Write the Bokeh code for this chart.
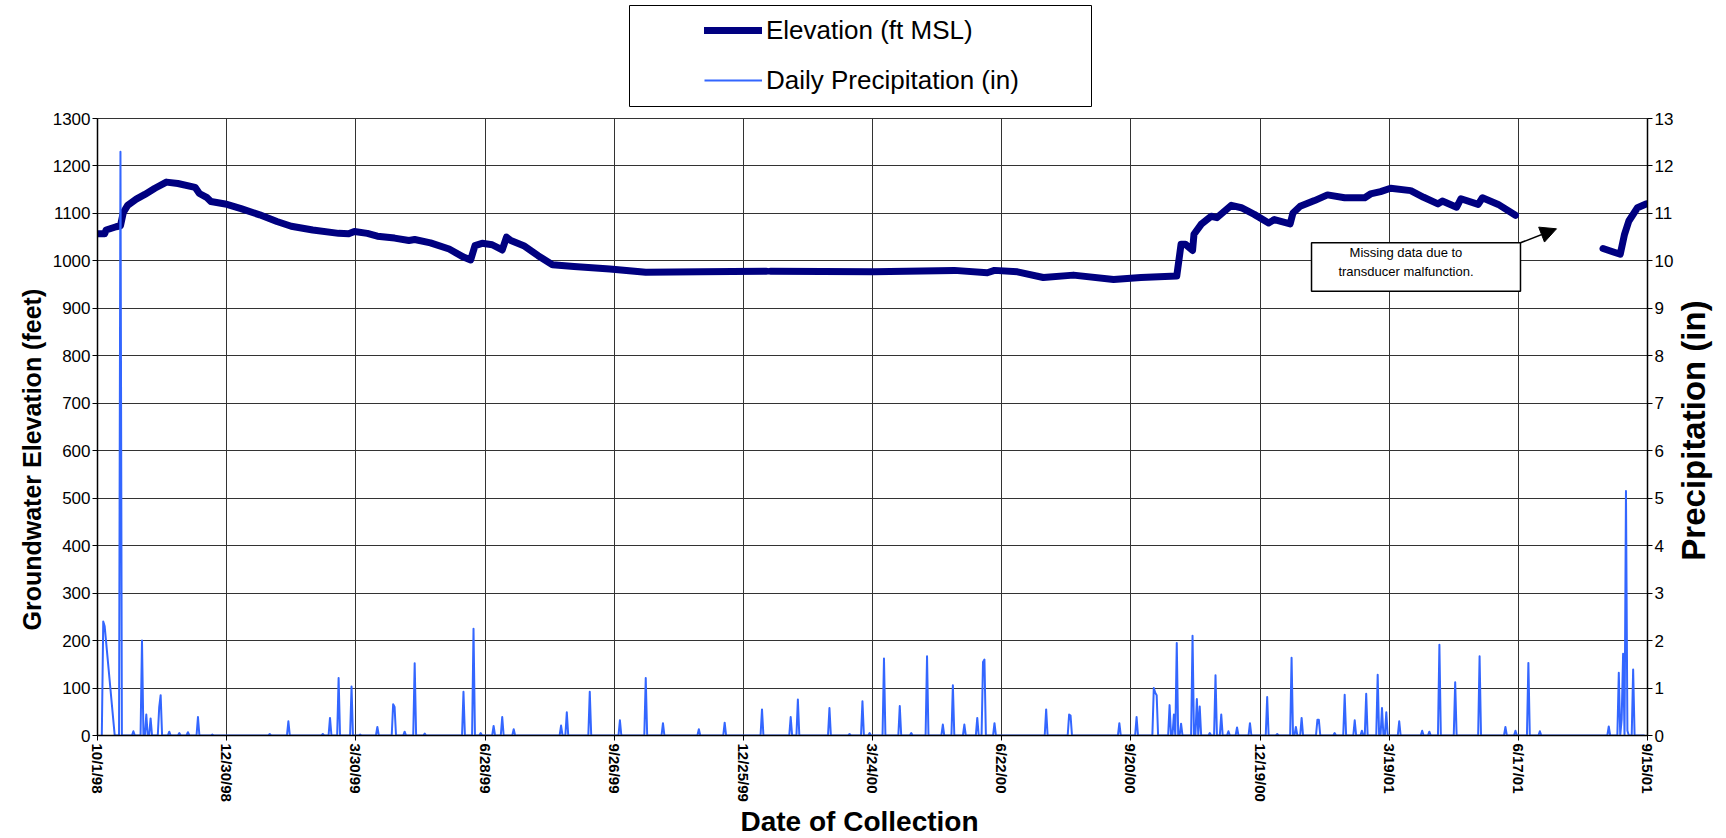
import math
from bokeh.plotting import figure
from bokeh.layouts import column, row
from bokeh.models import (Range1d, LinearAxis, FixedTicker, Legend, LegendItem, Title,
                          Label, BoxAnnotation, Arrow, NormalHead)
from bokeh.embed import file_html
from bokeh.resources import INLINE

# ---------------- data ----------------
# x values are days since 10/1/98
tick_days = [0, 90, 180, 270, 360, 450, 540, 630, 720, 810, 900, 990, 1080]
tick_labels = ["10/1/98", "12/30/98", "3/30/99", "6/28/99", "9/26/99", "12/25/99",
               "3/24/00", "6/22/00", "9/20/00", "12/19/00", "3/19/01", "6/17/01", "9/15/01"]

elev_day = [0, 5, 6, 13, 16, 18, 21, 27, 33, 40, 48, 56, 68, 71, 76, 79, 89, 100, 113, 125,
            135, 150, 168, 175, 179, 188, 195, 207, 217, 221, 232, 245, 255, 260, 263, 268,
            275, 282, 285, 288, 297, 307, 317, 332, 357, 382, 420, 466, 467, 469, 541, 597,
            620, 625, 641, 659, 680, 708, 727, 752, 755, 758, 763, 764, 769, 776, 780, 790,
            797, 806, 816, 820, 831, 833, 838, 848, 857, 869, 883, 887, 894, 901, 915, 924,
            934, 937, 947, 950, 962, 965, 976, 988, 1020, 1049, 1061, 1064, 1067, 1073, 1079]
elev_ft = [1057, 1057, 1065, 1072, 1074, 1102, 1117, 1130, 1140, 1153, 1166, 1163, 1155, 1142,
           1134, 1125, 1120, 1110, 1097, 1083, 1073, 1065, 1058, 1057, 1062, 1058, 1052, 1048,
           1043, 1045, 1038, 1025, 1008, 1002, 1032, 1037, 1034, 1023, 1050, 1043, 1032, 1011,
           992, 988, 983, 976, 977, 978, None, 978, 977, 980, 975, 980, 977, 965, 970, 961,
           965, 968, 1035, 1035, 1022, 1056, 1077, 1094, 1091, 1117, 1112, 1098, 1080, 1087,
           1078, 1101, 1115, 1127, 1139, 1133, 1133, 1141, 1146, 1153, 1148, 1134, 1120, 1126,
           1113, 1131, 1119, 1133, 1119, 1096, None, 1026, 1014, 1056, 1084, 1112, 1120]

# daily precipitation (in); days not listed had 0 in
precip_first_day, precip_last_day = 3, 1078
precip_missing_days = [6, 7, 8, 9, 10, 11]
rain_day = [4, 5, 16, 25, 31, 34, 37, 43, 44, 50, 57, 63, 70, 80, 120, 133, 157, 162, 168,
            177, 183, 195, 206, 207, 214, 221, 228, 255, 262, 267, 276, 282, 290, 323, 327,
            343, 364, 382, 394, 419, 437, 463, 483, 488, 510, 524, 533, 538, 548, 559, 567,
            578, 589, 596, 604, 613, 617, 618, 625, 661, 677, 678, 712, 724, 736, 737, 738,
            747, 750, 752, 755, 763, 766, 768, 775, 779, 783, 788, 794, 803, 815, 822, 832,
            835, 839, 850, 851, 862, 869, 876, 881, 884, 892, 895, 898, 907, 923, 928, 935,
            946, 963, 981, 988, 997, 1005, 1053, 1060, 1062, 1063, 1065, 1066, 1070]
rain_in = [2.4, 2.3, 12.3, 0.09, 2.0, 0.44, 0.36, 0.6, 0.85, 0.08, 0.05, 0.07, 0.39, 0.02,
           0.03, 0.3, 0.03, 0.37, 1.21, 1.03, 0.02, 0.18, 0.66, 0.6, 0.08, 1.52, 0.04, 0.92,
           2.25, 0.05, 0.2, 0.39, 0.13, 0.21, 0.49, 0.92, 0.32, 1.21, 0.26, 0.13, 0.27, 0.55,
           0.39, 0.76, 0.58, 0.03, 0.72, 0.05, 1.62, 0.62, 0.05, 1.67, 0.23, 1.06, 0.23, 0.37,
           1.55, 1.6, 0.26, 0.55, 0.44, 0.42, 0.26, 0.39, 1.0, 0.9, 0.85, 0.64, 0.44, 1.95,
           0.25, 2.1, 0.77, 0.61, 0.05, 1.27, 0.44, 0.09, 0.17, 0.26, 0.81, 0.03, 1.64, 0.18,
           0.37, 0.33, 0.33, 0.05, 0.86, 0.32, 0.1, 0.88, 1.28, 0.58, 0.49, 0.3, 0.1, 0.08,
           1.91, 1.12, 1.67, 0.18, 0.1, 1.53, 0.09, 0.19, 1.32, 0.34, 1.72, 5.15, 0.1, 1.39]

legend_labels = ["Elevation (ft MSL)", "Daily Precipitation (in)"]
elev_color, precip_color = "#000080", "#3366FF"

# ---------------- build series ----------------
elev_y = [float("nan") if v is None else v for v in elev_ft]
rain = dict(zip(rain_day, rain_in))
p_days, p_vals = [], []
for d in range(precip_first_day, precip_last_day + 1):
    if d in precip_missing_days:
        continue
    p_days.append(d)
    p_vals.append(rain.get(d, 0.0))

FONT = "Liberation Sans"
W, H = 1726, 838
RS_W = 50                 # width of the strip that holds the right-hand axis title
MW = W - RS_W             # width of legend strip and main chart
TOP_H = 107
BL, BR = 97, MW - 1647    # left / right borders shared by both stacked figures
FRAME_TOP, FRAME_BOTTOM = 118, 735

# ---------------- legend strip above the chart (pixel coordinates) ----------------
lg = figure(width=MW, height=TOP_H, output_backend="svg", toolbar_location=None,
            x_range=Range1d(BL, MW - BR), y_range=Range1d(TOP_H, 0),
            x_axis_location=None, y_axis_location=None,
            min_border_left=BL, min_border_right=BR, min_border_top=0, min_border_bottom=0,
            background_fill_color="white", border_fill_color="white")
lg.grid.visible = False
lg.outline_line_color = None
lg.add_layout(BoxAnnotation(left=629, right=1091, top=5, bottom=106,
                            fill_color="white", fill_alpha=1.0,
                            line_color="black", line_width=1, line_alpha=1.0))
r1 = lg.line([-50, -40], [50, 50], line_width=7, color=elev_color, line_cap="round")
r2 = lg.line([-50, -40], [50, 50], line_width=2, color=precip_color)
lg.add_layout(Legend(items=[LegendItem(label=legend_labels[0], renderers=[r1]),
                            LegendItem(label=legend_labels[1], renderers=[r2])],
                     location=(709 - BL - 5, 7), border_line_color=None,
                     background_fill_alpha=0,
                     padding=5, spacing=10, glyph_height=40, glyph_width=58, label_height=40,
                     label_standoff=4, label_text_font=FONT, label_text_font_size="26px",
                     label_text_color="black"))

# ---------------- main chart ----------------
p = figure(width=MW, height=H - TOP_H, output_backend="svg", toolbar_location=None,
           x_range=Range1d(0, 1080), y_range=Range1d(0, 1300),
           min_border_left=BL, min_border_right=BR,
           min_border_top=FRAME_TOP - TOP_H, min_border_bottom=H - FRAME_BOTTOM,
           background_fill_color="white", border_fill_color="white")
p.extra_y_ranges = {"precip": Range1d(0, 13)}
p.outline_line_color = "#333333"

xt = FixedTicker(ticks=tick_days)
yt = FixedTicker(ticks=list(range(0, 1301, 100)))
p.xaxis[0].ticker = xt
p.yaxis[0].ticker = yt
p.xgrid[0].ticker = xt
p.ygrid[0].ticker = yt
for g in (p.xgrid[0], p.ygrid[0]):
    g.grid_line_color = "#333333"
    g.grid_line_width = 1

xa = p.xaxis[0]
xa.major_label_overrides = {d: l for d, l in zip(tick_days, tick_labels)}
xa.major_label_orientation = "vertical"
xa.major_label_text_font_style = "bold"
xa.major_label_text_font_size = "15px"

ya = p.yaxis[0]
ya.major_label_text_font_size = "17px"

ra = LinearAxis(y_range_name="precip", ticker=FixedTicker(ticks=list(range(0, 14))))
ra.major_label_text_font_size = "17px"
p.add_layout(ra, "right")

for ax in (xa, ya, ra):
    ax.major_label_text_font = FONT
    ax.major_label_text_color = "black"
    ax.major_label_standoff = 2
    ax.axis_line_color = "black"
    ax.axis_line_width = 1.5
    ax.major_tick_line_color = "black"
    ax.major_tick_out = 5
    ax.major_tick_in = 0
    ax.minor_tick_out = 0
    ax.minor_tick_in = 0
xa.major_label_standoff = 3

# axis titles placed in the side panels
p.add_layout(Title(text="Groundwater Elevation (feet)", align="left", offset=105,
                   vertical_align="middle", standoff=6, text_font=FONT,
                   text_font_size="25px", text_font_style="bold", text_color="black"), "left")
p.add_layout(Title(text="Date of Collection", align="left", offset=643,
                   vertical_align="middle", standoff=1, text_font=FONT,
                   text_font_size="28px", text_font_style="bold", text_color="black"), "below")

p.line(elev_day, elev_y, line_width=7, color=elev_color, line_join="round", line_cap="round")
p.line(p_days, p_vals, y_range_name="precip", line_width=2, color=precip_color,
       line_join="round")

# missing-data note (data-space position)
p.add_layout(BoxAnnotation(left=845.9, right=991.5, bottom=936.1, top=1038.1,
                           fill_color="white", fill_alpha=1.0,
                           line_color="black", line_width=1.5, line_alpha=1.0))
for ty, txt in ((1017.0, "Missing data due to"), (978.3, "transducer malfunction.")):
    p.add_layout(Label(x=911.7, y=ty, text=txt, text_align="center", text_baseline="middle",
                       text_font=FONT, text_font_size="13px", text_color="black"))
p.add_layout(Arrow(x_start=991.5, y_start=1038.1, x_end=1016.6, y_end=1067.6,
                   line_color="black", line_width=1.5,
                   end=NormalHead(size=16, fill_color="black", line_color="black")))

# ---------------- right strip holding the secondary-axis title (page pixels) ----------------
rs = figure(width=RS_W, height=H, output_backend="svg", toolbar_location=None,
            x_range=Range1d(0, RS_W), y_range=Range1d(H, 0),
            x_axis_location=None, y_axis_location=None,
            min_border_left=0, min_border_right=0, min_border_top=0, min_border_bottom=0,
            background_fill_color="white", border_fill_color="white")
rs.grid.visible = False
rs.outline_line_color = None
rs.add_layout(Label(x=17, y=430, text="Precipitation (in)", angle=math.pi / 2,
                    text_align="center", text_baseline="middle", text_font=FONT,
                    text_font_size="33px", text_font_style="bold", text_color="black"))

layout = row(column(lg, p, spacing=0), rs, spacing=0)
open("out.html", "w").write(file_html(layout, INLINE))
